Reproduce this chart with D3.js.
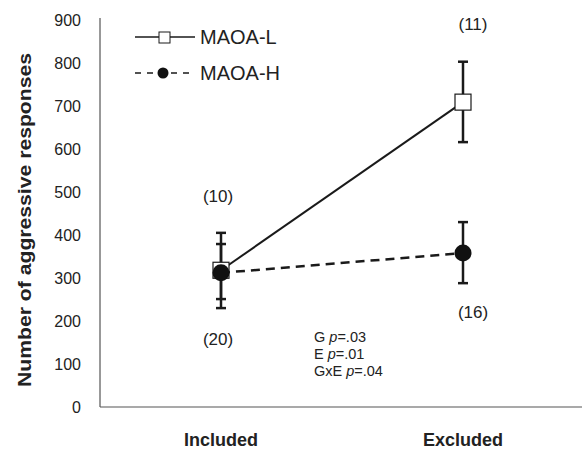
<!DOCTYPE html>
<meta charset="utf-8">
<style>
body { margin: 0; background: #fff; }
text { font-family: "Liberation Sans", Arial, sans-serif; fill: #222; }
</style>
<body>
<svg class="chart js-chart"></svg>
<script src="https://d3js.org/d3.v7.min.js"></script>
<script type="text/javascript">
"use strict";

var conditions = ["Included", "Excluded"];
var yTicks = [0, 100, 200, 300, 400, 500, 600, 700, 800, 900];

var maoaL = [{x: "Included", mean: 318, lo: 230, hi: 405}, {x: "Excluded", mean: 709, lo: 616, hi: 803}];
var maoaH = [{x: "Included", mean: 312, lo: 251, hi: 379}, {x: "Excluded", mean: 358, lo: 288, hi: 430}];
var nLabels = [
  {x: "Included", y: 490, text: "(10)"},
  {x: "Included", y: 158, text: "(20)"},
  {x: "Excluded", y: 890, text: "(11)"},
  {x: "Excluded", y: 221, text: "(16)"}
];
var stats = [["G", "=.03"], ["E", "=.01"], ["GxE", "=.04"]];

var width = 582, height = 450;
var svg = d3.select('.js-chart').attr('width', width).attr('height', height);

var x = d3.scalePoint().domain(conditions).range([221, 463]);
var y = d3.scaleLinear().domain([0, 900]).range([407, 20]);

// axes: plain lines, no tick marks
svg.append('line').attr('x1', 100).attr('x2', 100).attr('y1', y(900) - 2).attr('y2', y(0))
  .attr('stroke', '#333').attr('stroke-width', 1);
svg.append('line').attr('x1', 100).attr('x2', 582).attr('y1', y(0)).attr('y2', y(0))
  .attr('stroke', '#555').attr('stroke-width', 1.2);

svg.selectAll('.ytick').data(yTicks).enter().append('text')
  .attr('x', 81).attr('y', function (d) { return y(d); })
  .attr('dy', '0.36em').attr('text-anchor', 'end')
  .style('font-size', '16px').text(function (d) { return d; });

svg.append('text')
  .attr('transform', 'translate(31,' + 220 + ') rotate(-90)')
  .attr('text-anchor', 'middle').style('font-size', '18.5px').style('font-weight', 'bold')
  .attr('textLength', 334).attr('lengthAdjust', 'spacingAndGlyphs')
  .text('Number of aggressive responses');

svg.selectAll('.xlab').data(conditions).enter().append('text')
  .attr('x', function (d) { return x(d); }).attr('y', 446)
  .attr('text-anchor', 'middle').style('font-size', '18px').style('font-weight', 'bold')
  .text(function (d) { return d; });

var line = d3.line().x(function (d) { return x(d.x); }).y(function (d) { return y(d.mean); });

function errorBars(data) {
  var g = svg.append('g').attr('stroke', '#1a1a1a').attr('stroke-width', 2.5);
  data.forEach(function (d) {
    g.append('line').attr('x1', x(d.x)).attr('x2', x(d.x)).attr('y1', y(d.lo)).attr('y2', y(d.hi));
    [d.lo, d.hi].forEach(function (v) {
      g.append('line').attr('x1', x(d.x) - 5).attr('x2', x(d.x) + 5).attr('y1', y(v)).attr('y2', y(v));
    });
  });
}

errorBars(maoaL);
errorBars(maoaH);

svg.append('path').datum(maoaL).attr('d', line)
  .attr('fill', 'none').attr('stroke', '#1a1a1a').attr('stroke-width', 2);
svg.append('path').datum(maoaH).attr('d', line)
  .attr('fill', 'none').attr('stroke', '#1a1a1a').attr('stroke-width', 2.5).attr('stroke-dasharray', '9,6');

svg.selectAll('.sq').data(maoaL).enter().append('rect')
  .attr('x', function (d) { return x(d.x) - 8; }).attr('y', function (d) { return y(d.mean) - 8; })
  .attr('width', 16).attr('height', 16)
  .attr('fill', '#fff').attr('stroke', '#1a1a1a').attr('stroke-width', 1.2);
svg.selectAll('.dot').data(maoaH).enter().append('circle')
  .attr('cx', function (d) { return x(d.x); }).attr('cy', function (d) { return y(d.mean); })
  .attr('r', 8.5).attr('fill', '#111');

svg.selectAll('.nlab').data(nLabels).enter().append('text')
  .attr('x', function (d) { return x(d.x) + (d.x === 'Excluded' ? 10 : -3); })
  .attr('y', function (d) { return y(d.y); }).attr('dy', '0.36em')
  .attr('text-anchor', 'middle').style('font-size', '17px')
  .text(function (d) { return d.text; });

var st = svg.append('g').attr('transform', 'translate(314,0)');
stats.forEach(function (s, i) {
  var t = st.append('text').attr('x', 0).attr('y', 342 + i * 17).style('font-size', '14.5px');
  t.append('tspan').text(s[0] + ' ');
  t.append('tspan').style('font-style', 'italic').text('p');
  t.append('tspan').text(s[1]);
});

// legend
var leg = svg.append('g');
leg.append('line').attr('x1', 135).attr('x2', 195).attr('y1', 37).attr('y2', 37)
  .attr('stroke', '#1a1a1a').attr('stroke-width', 1.5);
leg.append('rect').attr('x', 159).attr('y', 32).attr('width', 11).attr('height', 11)
  .attr('fill', '#fff').attr('stroke', '#1a1a1a').attr('stroke-width', 1);
leg.append('text').attr('x', 200).attr('y', 37).attr('dy', '0.36em').style('font-size', '20px').text('MAOA-L');
leg.append('line').attr('x1', 135).attr('x2', 195).attr('y1', 73).attr('y2', 73)
  .attr('stroke', '#1a1a1a').attr('stroke-width', 1.5).attr('stroke-dasharray', '6,6');
leg.append('circle').attr('cx', 163).attr('cy', 73).attr('r', 5.5).attr('fill', '#111');
leg.append('text').attr('x', 200).attr('y', 73).attr('dy', '0.36em').style('font-size', '20px').text('MAOA-H');
</script>
</body>
